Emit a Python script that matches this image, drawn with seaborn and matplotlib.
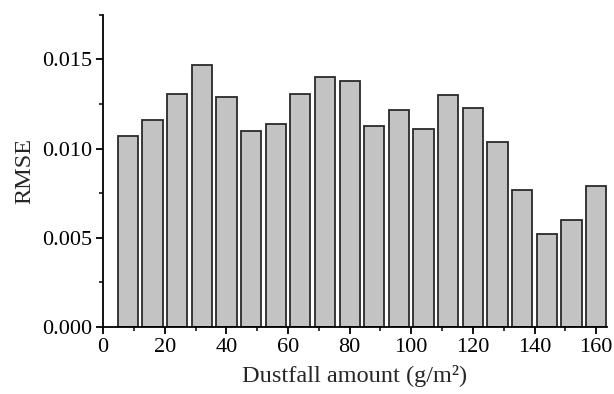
import matplotlib
matplotlib.use("Agg")
import matplotlib.pyplot as plt
import seaborn as sns
import pandas as pd
from matplotlib.ticker import MultipleLocator

dustfall = [8, 16, 24, 32, 40, 48, 56, 64, 72, 80, 88, 96, 104, 112, 120, 128, 136, 144, 152, 160]
rmse = [0.01070, 0.01160, 0.01307, 0.01469, 0.01289, 0.01099, 0.01139, 0.01307, 0.01399, 0.01380,
        0.01129, 0.01219, 0.01111, 0.01298, 0.01229, 0.01038, 0.00768, 0.00521, 0.00599, 0.00790]

df = pd.DataFrame({"dustfall": dustfall, "rmse": rmse})

sns.set_style("ticks")
plt.rcParams["font.family"] = ["Liberation Serif", "DejaVu Serif"]

fig = plt.figure(figsize=(6.14, 3.94), dpi=100)
ax = fig.add_axes([0.168, 0.171, 0.820, 0.791])

sns.barplot(data=df, x="dustfall", y="rmse", native_scale=True, width=0.82,
            color="#c3c3c3", saturation=1, edgecolor="#2a2a2a", linewidth=1.3, ax=ax)

ax.set_xlim(0, 163.4)
ax.set_ylim(0, 0.0175)
ax.xaxis.set_major_locator(MultipleLocator(20))
ax.xaxis.set_minor_locator(MultipleLocator(10))
ax.yaxis.set_major_locator(MultipleLocator(0.005))
ax.yaxis.set_minor_locator(MultipleLocator(0.0025))
ax.yaxis.set_major_formatter(matplotlib.ticker.FormatStrFormatter("%.3f"))

for s in ["top", "right"]:
    ax.spines[s].set_visible(False)
for s in ["left", "bottom"]:
    ax.spines[s].set_linewidth(1.3)
    ax.spines[s].set_color("black")

ax.tick_params(which="major", direction="out", length=5, width=1.3, labelsize=16, colors="black", pad=3)
ax.tick_params(which="minor", direction="out", length=3, width=1.1, colors="black")

ax.set_xlabel("Dustfall amount (g/m²)", fontsize=17.5, labelpad=6)
ax.set_ylabel("RMSE", fontsize=17.5, labelpad=5)

fig.savefig("out.png", dpi=100)
